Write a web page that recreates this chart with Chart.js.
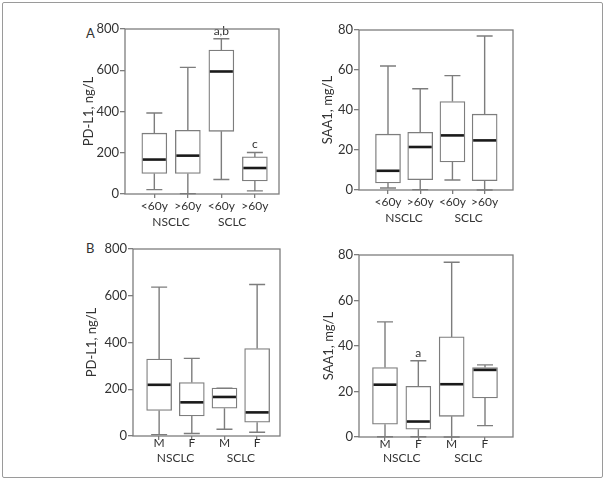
<!DOCTYPE html>
<html>
<head>
<meta charset="utf-8">
<script src="https://cdn.jsdelivr.net/npm/chart.js@4.4.0/dist/chart.umd.min.js"></script>
<style>
    body { margin: 0; width: 606px; height: 482px; background: #fff; position: relative; overflow: hidden; font-family: Lato, sans-serif; }
    #frame { position: absolute; left: 2px; top: 2px; width: 599px; height: 474px; border: 1.5px solid #9a9a9a; border-radius: 2px; }
    .panel { position: absolute; }
    .tag { position: absolute; font: 13px Lato, sans-serif; line-height: 16px; color: #333; }
</style>
</head>
<body>
<div id="frame"></div>
<div class="tag" style="left:86px;top:25px">A</div>
<div class="tag" style="left:86px;top:240px">B</div>
<canvas id="a1" class="panel"></canvas>
<canvas id="a2" class="panel"></canvas>
<canvas id="b1" class="panel"></canvas>
<canvas id="b2" class="panel"></canvas>

<script>
// ===== Data =====
const ageLabels = ['<60y', '>60y', '<60y', '>60y'];
const sexLabels = ['M', 'F', 'M', 'F'];
const groupLabels = ['NSCLC', 'SCLC'];
const pdl1Ticks = [0, 200, 400, 600, 800];
const saa1Ticks = [0, 20, 40, 60, 80];

// PD-L1 by age (panel A, left)
const pdAgeMin = [21, 2, 70, 15];
const pdAgeQ1 = [100, 100, 304, 63];
const pdAgeMed = [167, 186, 594, 126];
const pdAgeQ3 = [295, 309, 698, 180];
const pdAgeMax = [393, 614, 753, 201];
const pdAgeNotes = ['', '', 'a,b', 'c'];

// SAA1 by age (panel A, right)
const saaAgeMin = [1.0, 0.2, 5.0, 0];
const saaAgeQ1 = [3.5, 5.2, 14.0, 4.7];
const saaAgeMed = [9.6, 21.5, 27.3, 24.8];
const saaAgeQ3 = [27.9, 28.8, 44.2, 37.9];
const saaAgeMax = [62, 50.6, 57.2, 77];
const saaAgeNotes = ['', '', '', ''];

// PD-L1 by sex (panel B, left)
const pdSexMin = [6, 11, 29, 16];
const pdSexQ1 = [109, 86, 119, 59];
const pdSexMed = [219, 144, 167, 101];
const pdSexQ3 = [329, 229, 205, 374];
const pdSexMax = [637, 332, 205, 648];
const pdSexNotes = ['', '', '', ''];

// SAA1 by sex (panel B, right)
const saaSexMin = [0.1, 0.1, 0, 5.0];
const saaSexQ1 = [5.6, 3.4, 9.1, 17.2];
const saaSexMed = [23.0, 6.8, 23.2, 29.5];
const saaSexQ3 = [30.5, 22.3, 44.0, 30.5];
const saaSexMax = [50.6, 33.5, 76.8, 31.7];
const saaSexNotes = ['', 'a', '', ''];

// ===== Styles =====
const TEXT = '#333';
const LINE = '#7d7d7d';
const FONT = 'Lato, sans-serif';

// Whiskers, medians, notes, group labels and plot frame
const boxPlotPlugin = {
    id: 'boxplot',
    afterDatasetsDraw(chart) {
        const cfg = chart.options.plugins.boxplot;
        const xs = chart.scales.x, ys = chart.scales.y;
        const ctx = chart.ctx;
        const half = 12.5, cap = 8;
        ctx.save();
        ctx.lineCap = 'butt';
        cfg.med.forEach((m, i) => {
            const x = xs.getPixelForValue(i + 1);
            const yMin = ys.getPixelForValue(cfg.min[i]);
            const yQ1 = ys.getPixelForValue(cfg.q1[i]);
            const yQ3 = ys.getPixelForValue(cfg.q3[i]);
            const yMax = ys.getPixelForValue(cfg.max[i]);
            ctx.strokeStyle = LINE;
            ctx.lineWidth = 1.4;
            ctx.beginPath();
            ctx.moveTo(x, yQ3); ctx.lineTo(x, yMax);
            ctx.moveTo(x, yQ1); ctx.lineTo(x, yMin);
            ctx.moveTo(x - cap, yMax); ctx.lineTo(x + cap, yMax);
            ctx.moveTo(x - cap, yMin); ctx.lineTo(x + cap, yMin);
            ctx.stroke();

            // median
            const yMed = ys.getPixelForValue(m);
            ctx.strokeStyle = '#1a1a1a';
            ctx.lineWidth = 2.6;
            ctx.beginPath();
            ctx.moveTo(x - half + 1, yMed); ctx.lineTo(x + half - 1, yMed);
            ctx.stroke();

            // significance notes
            if (cfg.notes[i]) {
                ctx.fillStyle = TEXT;
                ctx.font = '12px ' + FONT;
                ctx.textAlign = 'center';
                ctx.textBaseline = 'bottom';
                ctx.fillText(cfg.notes[i], x, yMax - 2);
            }
        });

        // group labels under the categories
        ctx.fillStyle = TEXT;
        ctx.font = '12px ' + FONT;
        ctx.textAlign = 'center';
        ctx.textBaseline = 'middle';
        groupLabels.forEach((g, i) => {
            ctx.fillText(g, xs.getPixelForValue(cfg.groupAt[i]), chart.chartArea.bottom + cfg.groupOffset);
        });

        // plot frame
        const a = chart.chartArea;
        ctx.strokeStyle = LINE;
        ctx.lineWidth = 1.3;
        ctx.strokeRect(a.left, a.top, a.right - a.left, a.bottom - a.top);
        ctx.restore();
    }
};

function makePanel(id, p) {
    const padTop = 12, padRight = 10, xH = 45;
    const canvasLeft = p.titleX - 12;
    const yW = p.area.l - canvasLeft;
    const w = yW + (p.area.r - p.area.l) + padRight;
    const h = padTop + (p.area.b - p.area.t) + xH;
    const canvas = document.getElementById(id);
    canvas.style.left = canvasLeft + 'px';
    canvas.style.top = (p.area.t - padTop) + 'px';
    canvas.width = w;
    canvas.height = h;

    const positions = p.labels.map((_, i) => i + 1);

    return new Chart(canvas.getContext('2d'), {
        type: 'bar',
        data: {
            datasets: [{
                data: p.q1.map((v, i) => ({ x: i + 1, y: [v, p.q3[i]] })),
                backgroundColor: '#fff',
                borderColor: LINE,
                borderWidth: 1.3,
                borderSkipped: false,
                barThickness: 25
            }]
        },
        options: {
            responsive: false,
            animation: false,
            devicePixelRatio: 1,
            layout: { padding: { top: padTop, right: padRight, left: 0, bottom: 0 } },
            plugins: {
                legend: { display: false },
                tooltip: { enabled: false },
                boxplot: {
                    min: p.min, q1: p.q1, med: p.med, q3: p.q3, max: p.max,
                    notes: p.notes, groupAt: p.groupAt, groupOffset: p.groupOffset
                }
            },
            scales: {
                x: {
                    type: 'linear',
                    offset: false,
                    min: p.xMin,
                    max: p.xMax,
                    afterBuildTicks: s => { s.ticks = positions.map(v => ({ value: v })); },
                    afterFit: s => { s.height = xH; },
                    ticks: {
                        callback: (v, i) => p.labels[i],
                        font: { family: FONT, size: 12 },
                        color: TEXT,
                        padding: p.labelPad,
                        autoSkip: false,
                        maxRotation: 0
                    },
                    grid: { offset: false, drawOnChartArea: false, drawTicks: true, tickLength: 4, color: LINE, lineWidth: 1.3 },
                    border: { display: false }
                },
                y: {
                    min: 0,
                    max: p.yTicks[p.yTicks.length - 1],
                    afterBuildTicks: s => { s.ticks = p.yTicks.map(v => ({ value: v })); },
                    afterFit: s => { s.width = yW; },
                    ticks: {
                        font: { family: FONT, size: 13 },
                        color: TEXT,
                        padding: 1
                    },
                    grid: { drawOnChartArea: false, drawTicks: true, tickLength: 5, color: LINE, lineWidth: 1.3 },
                    border: { display: false },
                    title: {
                        display: true,
                        text: p.title,
                        font: { family: FONT, size: 13 },
                        color: TEXT
                    }
                }
            }
        },
        plugins: [boxPlotPlugin]
    });
}

makePanel('a1', {
    area: { l: 125, r: 279, t: 29, b: 194 }, titleX: 89,
    xMin: 0.125, xMax: 4.72, labels: ageLabels, labelPad: 1, groupAt: [1.5, 3.32], groupOffset: 28,
    yTicks: pdl1Ticks, title: 'PD-L1, ng/L',
    min: pdAgeMin, q1: pdAgeQ1, med: pdAgeMed, q3: pdAgeQ3, max: pdAgeMax, notes: pdAgeNotes
});
makePanel('a2', {
    area: { l: 359, r: 513, t: 30, b: 190 }, titleX: 328,
    xMin: 0.1, xMax: 4.88, labels: ageLabels, labelPad: 1, groupAt: [1.5, 3.5], groupOffset: 28,
    yTicks: saa1Ticks, title: 'SAA1, mg/L',
    min: saaAgeMin, q1: saaAgeQ1, med: saaAgeMed, q3: saaAgeQ3, max: saaAgeMax, notes: saaAgeNotes
});
makePanel('b1', {
    area: { l: 133, r: 280, t: 249, b: 436 }, titleX: 92,
    xMin: 0.2, xMax: 4.7, labels: sexLabels, labelPad: -4, groupAt: [1.5, 3.5], groupOffset: 22,
    yTicks: pdl1Ticks, title: 'PD-L1, ng/L',
    min: pdSexMin, q1: pdSexQ1, med: pdSexMed, q3: pdSexQ3, max: pdSexMax, notes: pdSexNotes
});
makePanel('b2', {
    area: { l: 359, r: 513, t: 255, b: 437 }, titleX: 329,
    xMin: 0.22, xMax: 4.84, labels: sexLabels, labelPad: -4, groupAt: [1.5, 3.5], groupOffset: 21,
    yTicks: saa1Ticks, title: 'SAA1, mg/L',
    min: saaSexMin, q1: saaSexQ1, med: saaSexMed, q3: saaSexQ3, max: saaSexMax, notes: saaSexNotes
});
</script>
</body>
</html>
